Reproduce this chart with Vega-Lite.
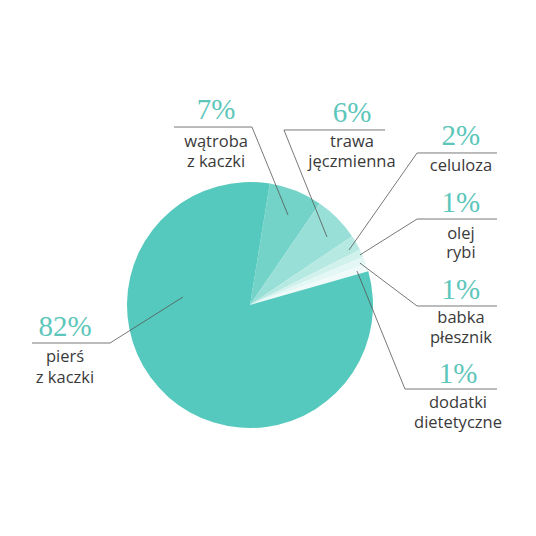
{
  "$schema": "https://vega.github.io/schema/vega-lite/v6.json",
  "width": 536,
  "height": 536,
  "autosize": {"type": "fit", "contains": "padding"},
  "padding": 0,
  "background": "white",
  "config": {"view": {"stroke": null}},
  "datasets": {
    "slices": [
      {"category": "wątroba z kaczki", "share": 7, "rank": 1},
      {"category": "trawa jęczmienna", "share": 6, "rank": 2},
      {"category": "celuloza", "share": 2, "rank": 3},
      {"category": "olej rybi", "share": 1, "rank": 4},
      {"category": "babka płesznik", "share": 1, "rank": 5},
      {"category": "dodatki dietetyczne", "share": 1, "rank": 6},
      {"category": "pierś z kaczki", "share": 82, "rank": 7}
    ],
    "leaders": [
      {"label": "pierś z kaczki", "seq": 1, "x": -1.772, "y": -0.309},
      {"label": "pierś z kaczki", "seq": 2, "x": -1.138, "y": -0.309},
      {"label": "pierś z kaczki", "seq": 3, "x": -0.545, "y": 0.065},
      {"label": "wątroba z kaczki", "seq": 1, "x": -0.618, "y": 1.447},
      {"label": "wątroba z kaczki", "seq": 2, "x": 0.016, "y": 1.447},
      {"label": "wątroba z kaczki", "seq": 3, "x": 0.309, "y": 0.732},
      {"label": "trawa jęczmienna", "seq": 1, "x": 1.098, "y": 1.423},
      {"label": "trawa jęczmienna", "seq": 2, "x": 0.276, "y": 1.423},
      {"label": "trawa jęczmienna", "seq": 3, "x": 0.626, "y": 0.553},
      {"label": "celuloza", "seq": 1, "x": 2.008, "y": 1.236},
      {"label": "celuloza", "seq": 2, "x": 1.358, "y": 1.236},
      {"label": "celuloza", "seq": 3, "x": 0.805, "y": 0.447},
      {"label": "olej rybi", "seq": 1, "x": 2.008, "y": 0.699},
      {"label": "olej rybi", "seq": 2, "x": 1.358, "y": 0.699},
      {"label": "olej rybi", "seq": 3, "x": 0.894, "y": 0.407},
      {"label": "babka płesznik", "seq": 1, "x": 2.008, "y": -0.008},
      {"label": "babka płesznik", "seq": 2, "x": 1.358, "y": -0.008},
      {"label": "babka płesznik", "seq": 3, "x": 0.894, "y": 0.341},
      {"label": "dodatki dietetyczne", "seq": 1, "x": 2.008, "y": -0.683},
      {"label": "dodatki dietetyczne", "seq": 2, "x": 1.26, "y": -0.683},
      {"label": "dodatki dietetyczne", "seq": 3, "x": 0.87, "y": 0.276}
    ],
    "pcts": [
      {"text": "82%", "x": -1.504, "y": -0.179},
      {"text": "7%", "x": -0.276, "y": 1.585},
      {"text": "6%", "x": 0.829, "y": 1.561},
      {"text": "2%", "x": 1.715, "y": 1.374},
      {"text": "1%", "x": 1.715, "y": 0.829},
      {"text": "1%", "x": 1.715, "y": 0.122},
      {"text": "1%", "x": 1.691, "y": -0.561}
    ],
    "names": [
      {"text": "pierś", "x": -1.504, "y": -0.423},
      {"text": "z kaczki", "x": -1.504, "y": -0.593},
      {"text": "wątroba", "x": -0.276, "y": 1.325},
      {"text": "z kaczki", "x": -0.276, "y": 1.163},
      {"text": "trawa", "x": 0.829, "y": 1.325},
      {"text": "jęczmienna", "x": 0.829, "y": 1.163},
      {"text": "celuloza", "x": 1.715, "y": 1.13},
      {"text": "olej", "x": 1.715, "y": 0.577},
      {"text": "rybi", "x": 1.715, "y": 0.423},
      {"text": "babka", "x": 1.715, "y": -0.106},
      {"text": "płesznik", "x": 1.715, "y": -0.268},
      {"text": "dodatki", "x": 1.691, "y": -0.797},
      {"text": "dietetyczne", "x": 1.691, "y": -0.959}
    ]
  },
  "layer": [
    {
      "data": {"name": "slices"},
      "mark": {"type": "arc", "outerRadius": 123},
      "encoding": {
        "x": {"datum": 0, "type": "quantitative", "scale": {"domain": [-2.0325, 2.3252], "nice": false, "zero": false}, "axis": null},
        "y": {"datum": 0, "type": "quantitative", "scale": {"domain": [-1.878, 2.4797], "nice": false, "zero": false}, "axis": null},
        "theta": {"field": "share", "type": "quantitative", "stack": true, "scale": {"range": [0.162, 6.445]}},
        "order": {"field": "rank", "type": "quantitative"},
        "color": {
          "field": "category",
          "type": "nominal",
          "scale": {
            "domain": ["pierś z kaczki", "wątroba z kaczki", "trawa jęczmienna", "celuloza", "olej rybi", "babka płesznik", "dodatki dietetyczne"],
            "range": ["#55C9BD", "#74D3C8", "#98DFD7", "#B7E9E3", "#D1F1ED", "#E3F7F4", "#F0FBF9"]
          },
          "legend": null
        }
      }
    },
    {
      "data": {"name": "leaders"},
      "mark": {"type": "line", "color": "#555555", "strokeWidth": 0.8},
      "encoding": {
        "x": {"field": "x", "type": "quantitative", "scale": {"domain": [-2.0325, 2.3252], "nice": false, "zero": false}, "axis": null},
        "y": {"field": "y", "type": "quantitative", "scale": {"domain": [-1.878, 2.4797], "nice": false, "zero": false}, "axis": null},
        "detail": {"field": "label", "type": "nominal"},
        "order": {"field": "seq", "type": "quantitative"}
      }
    },
    {
      "data": {"name": "pcts"},
      "mark": {"type": "text", "font": "Liberation Serif", "fontSize": 29, "color": "#5DC6BA", "align": "center", "baseline": "middle"},
      "encoding": {
        "x": {"field": "x", "type": "quantitative", "scale": {"domain": [-2.0325, 2.3252], "nice": false, "zero": false}, "axis": null},
        "y": {"field": "y", "type": "quantitative", "scale": {"domain": [-1.878, 2.4797], "nice": false, "zero": false}, "axis": null},
        "text": {"field": "text", "type": "nominal"}
      }
    },
    {
      "data": {"name": "names"},
      "mark": {"type": "text", "font": "Open Sans", "fontSize": 16.5, "color": "#3A3A3A", "align": "center", "baseline": "middle"},
      "encoding": {
        "x": {"field": "x", "type": "quantitative", "scale": {"domain": [-2.0325, 2.3252], "nice": false, "zero": false}, "axis": null},
        "y": {"field": "y", "type": "quantitative", "scale": {"domain": [-1.878, 2.4797], "nice": false, "zero": false}, "axis": null},
        "text": {"field": "text", "type": "nominal"}
      }
    }
  ]
}
